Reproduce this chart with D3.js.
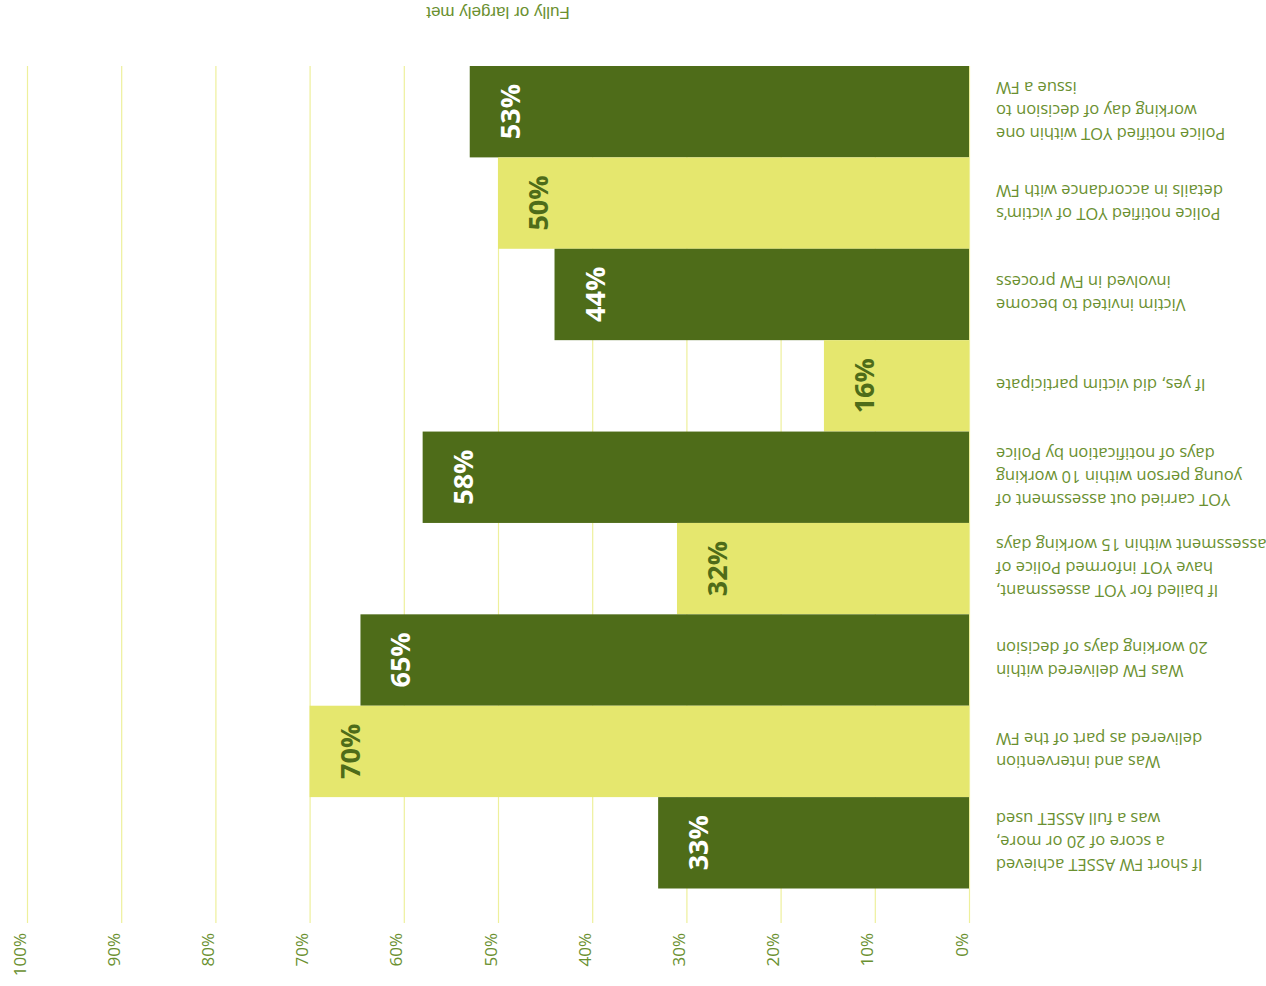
<!DOCTYPE html>
<html>
<head>
<meta charset="utf-8">
<script src="https://cdn.jsdelivr.net/npm/d3@7"></script>
<style>
  body { margin: 0; background: #fff; }
  svg { display: block; }
</style>
</head>
<body>
<svg></svg>
<script>
const categories = [
  ["Police notified YOT within one", "working day of decision to", "issue a FW"],
  ["Police notified YOT of victim\u2019s", "details in accordance with FW"],
  ["Victim invited to become", "involved in FW process"],
  ["If yes, did victim participate"],
  ["YOT carried out assessment of", "young person within 10 working", "days of notification by Police"],
  ["If bailed for YOT assessmant,", "have YOT informed Police of", "assessment within 15 working days"],
  ["Was FW delivered within", "20 working days of decision"],
  ["Was and intervention", "delivered as part of the FW"],
  ["If short FW ASSET achieved", "a score of 20 or more,", "was a full ASSET used"]
];
const values = [0.53, 0.50, 0.44, 0.154, 0.58, 0.31, 0.646, 0.70, 0.33];
const valueLabels = ["53%", "50%", "44%", "16%", "58%", "32%", "65%", "70%", "33%"];
const ticks = [0, 0.1, 0.2, 0.3, 0.4, 0.5, 0.6, 0.7, 0.8, 0.9, 1];
const title = "Fully or largely met";

const size = { width: 1266, height: 986 };
const dark = "#4e6c19";
const light = "#e5e76e";
const textColor = "#6a9030";
const gridColor = "#eef09c";

const svg = d3.select("svg").attr("width", size.width).attr("height", size.height);

const ids = categories.map((_, i) => i);
const xScale = d3.scaleLinear().domain([0, 1]).range([969, 27]);
const yScale = d3.scaleBand().domain(ids).range([66, 888.5]);

// grid + tick labels
const xAxis = d3.axisBottom(xScale).tickValues(ticks)
  .tickSize(-(923 - 66)).tickFormat(d3.format(".0%"));
const axisG = svg.append("g").attr("transform", "translate(0,923)").call(xAxis);
axisG.select(".domain").remove();
axisG.selectAll(".tick line").attr("stroke", gridColor).attr("stroke-width", 1.2);
axisG.selectAll(".tick text")
  .attr("transform", "rotate(-90)")
  .attr("x", -10).attr("y", -2).attr("dy", 0)
  .attr("text-anchor", "end")
  .attr("fill", textColor)
  .style("font-family", "'Open Sans', sans-serif")
  .style("font-size", "17px");

// bars
svg.selectAll("rect.bar").data(ids).enter().append("rect")
  .attr("class", "bar")
  .attr("x", i => xScale(values[i]))
  .attr("y", i => yScale(i))
  .attr("width", i => xScale(0) - xScale(values[i]))
  .attr("height", yScale.bandwidth())
  .attr("fill", i => i % 2 === 0 ? dark : light);

// value labels
svg.selectAll("text.val").data(ids).enter().append("text")
  .attr("class", "val")
  .attr("transform", i => `translate(${xScale(values[i]) + 50},${yScale(i) + 18}) rotate(-90)`)
  .attr("text-anchor", "end")
  .attr("fill", i => i % 2 === 0 ? "#fff" : dark)
  .style("font-family", "'Open Sans', sans-serif")
  .style("font-weight", "bold")
  .style("font-size", "27px")
  .text(i => valueLabels[i]);

// category labels (upside down)
const lineH = 23;
const catG = svg.selectAll("g.cat").data(ids).enter().append("g")
  .attr("class", "cat")
  .attr("transform", i => `translate(996,${yScale(i) + yScale.bandwidth() / 2}) rotate(180)`);
catG.each(function(i) {
  const lines = categories[i];
  d3.select(this).selectAll("text").data(lines).enter().append("text")
    .attr("x", 0)
    .attr("y", (_, k) => (k - (lines.length - 1) / 2) * lineH)
    .attr("dominant-baseline", "central")
    .attr("text-anchor", "end")
    .attr("fill", textColor)
    .style("font-family", "'Open Sans', sans-serif")
    .style("font-size", "16.5px")
    .text(d => d);
});

// title
svg.append("text")
  .attr("transform", `translate(${(xScale(0) + xScale(1)) / 2},12) rotate(180)`)
  .attr("text-anchor", "middle")
  .attr("dominant-baseline", "central")
  .attr("fill", textColor)
  .style("font-family", "'Liberation Sans', Arial, sans-serif")
  .style("font-size", "17px")
  .text(title);
</script>
</body>
</html>
